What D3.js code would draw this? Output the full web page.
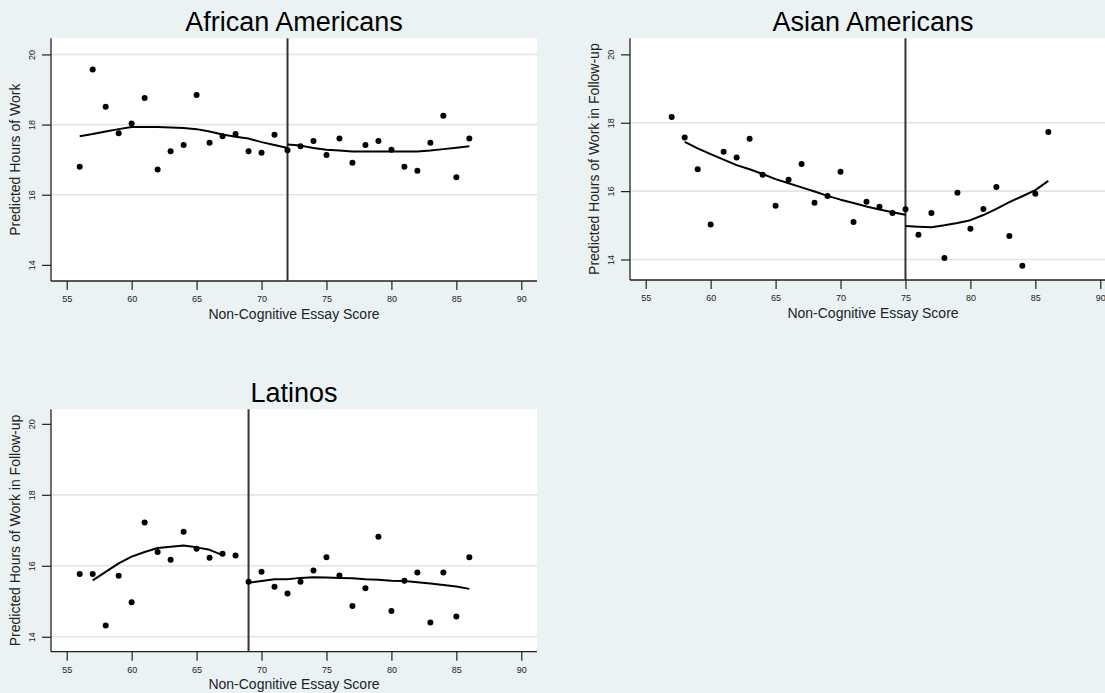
<!DOCTYPE html>
<html><head><meta charset="utf-8">
<script src="https://cdn.jsdelivr.net/npm/d3@7/dist/d3.min.js"></script>
<style>
html,body{margin:0;padding:0;background:#eaf2f3;}
svg{display:block;font-family:"Liberation Sans",Arial,Helvetica,sans-serif;}
</style></head>
<body>
<svg id="chart" width="1105" height="693"></svg>
<script>
// ---------- data ----------
const xTicks = [55, 60, 65, 70, 75, 80, 85, 90];
const yTicks = [14, 16, 18, 20];
const xAxisTitle = "Non-Cognitive Essay Score";

// African Americans
const afAmScores = [56,57,58,59,60,61,62,63,64,65,66,67,68,69,70,71,72,73,74,75,76,77,78,79,80,81,82,83,84,85,86];
const afAmHours  = [16.80,19.57,18.51,17.75,18.03,18.76,16.72,17.24,17.42,18.84,17.48,17.67,17.73,17.24,17.20,17.71,17.27,17.38,17.53,17.13,17.60,16.91,17.42,17.53,17.28,16.80,16.68,17.48,18.25,16.50,17.60];
const afAmFitLeftX  = [56,57,58,59,60,61,62,63,64,65,66,67,68,69,70,71,72];
const afAmFitLeftY  = [17.67,17.73,17.80,17.87,17.93,17.93,17.93,17.92,17.90,17.87,17.80,17.72,17.65,17.60,17.50,17.42,17.33];
const afAmFitRightX = [72,73,74,75,76,77,78,79,80,81,82,83,84,85,86];
const afAmFitRightY = [17.43,17.40,17.33,17.28,17.26,17.23,17.23,17.23,17.23,17.23,17.23,17.26,17.30,17.34,17.38];
const afAmCutoff = 72;

// Asian Americans
const asAmScores = [57,58,59,60,61,62,63,64,65,66,67,68,69,70,71,72,73,74,75,76,77,78,79,80,81,82,83,84,85,86];
const asAmHours  = [18.17,17.57,16.64,15.02,17.15,16.98,17.53,16.48,15.57,16.33,16.79,15.66,15.86,16.57,15.10,15.69,15.54,15.36,15.47,14.72,15.36,14.04,15.95,14.90,15.48,16.12,14.69,13.82,15.92,17.73];
const asAmFitLeftX  = [58,59,60,61,62,63,64,65,66,67,68,69,70,71,72,73,74,75];
const asAmFitLeftY  = [17.44,17.25,17.08,16.92,16.76,16.64,16.50,16.35,16.23,16.11,15.99,15.86,15.75,15.65,15.55,15.46,15.38,15.31];
const asAmFitRightX = [75,76,77,78,79,80,81,82,83,84,85,86];
const asAmFitRightY = [14.98,14.96,14.94,15.00,15.07,15.15,15.30,15.48,15.68,15.85,16.03,16.30];
const asAmCutoff = 75;

// Latinos
const latScores = [56,57,58,59,60,61,62,63,64,65,66,67,68,69,70,71,72,73,74,75,76,77,78,79,80,81,82,83,84,85,86];
const latHours  = [15.77,15.77,14.32,15.72,14.97,17.22,16.39,16.17,16.96,16.48,16.23,16.34,16.29,15.55,15.83,15.41,15.22,15.55,15.87,16.24,15.73,14.87,15.37,16.82,14.73,15.58,15.81,14.40,15.81,14.57,16.24];
const latFitLeftX  = [57,58,59,60,61,62,63,64,65,66,67];
const latFitLeftY  = [15.59,15.83,16.07,16.26,16.39,16.50,16.54,16.57,16.52,16.45,16.30];
const latFitRightX = [69,70,71,72,73,74,75,76,77,78,79,80,81,82,83,84,85,86];
const latFitRightY = [15.52,15.57,15.62,15.62,15.66,15.68,15.67,15.66,15.65,15.62,15.61,15.58,15.57,15.54,15.50,15.46,15.42,15.35];
const latCutoff = 69;

const panelTitles = ["African Americans", "Asian Americans", "Latinos"];
const yAxisTitles = ["Predicted Hours of Work", "Predicted Hours of Work in Follow-up", "Predicted Hours of Work in Follow-up"];

// ---------- layout ----------
const xDomain = [53.79, 91.21];
const panels = [
  {title: panelTitles[0], yTitle: yAxisTitles[0], scores: afAmScores, hours: afAmHours,
   fits: [[afAmFitLeftX, afAmFitLeftY], [afAmFitRightX, afAmFitRightY]], cutoff: afAmCutoff,
   left: 51, right: 537, top: 38.3, bottom: 281, yDomain: [13.54, 20.46], grid: [16, 18, 20]},
  {title: panelTitles[1], yTitle: yAxisTitles[1], scores: asAmScores, hours: asAmHours,
   fits: [[asAmFitLeftX, asAmFitLeftY], [asAmFitRightX, asAmFitRightY]], cutoff: asAmCutoff,
   left: 630, right: 1116, top: 38.3, bottom: 280, yDomain: [13.40, 20.47], grid: [14, 16, 18]},
  {title: panelTitles[2], yTitle: yAxisTitles[2], scores: latScores, hours: latHours,
   fits: [[latFitLeftX, latFitLeftY], [latFitRightX, latFitRightY]], cutoff: latCutoff,
   left: 51, right: 537, top: 409.3, bottom: 651.7, yDomain: [13.58, 20.41], grid: [14, 16, 18]}
];

const svg = d3.select("#chart");
svg.append("rect").attr("width", 1105).attr("height", 693).attr("fill", "#eaf2f3");

panels.forEach(p => {
  const g = svg.append("g");
  const x = d3.scaleLinear().domain(xDomain).range([p.left, p.right]);
  const y = d3.scaleLinear().domain(p.yDomain).range([p.bottom, p.top]);

  // plot region
  g.append("rect").attr("x", p.left).attr("y", p.top)
    .attr("width", p.right - p.left).attr("height", p.bottom - p.top).attr("fill", "#ffffff");

  // grid lines
  g.selectAll(".grid").data(p.grid).join("line")
    .attr("x1", p.left).attr("x2", p.right)
    .attr("y1", d => y(d)).attr("y2", d => y(d))
    .attr("stroke", "#e4e4e4").attr("stroke-width", 1.6);

  // x axis
  const xAxis = d3.axisBottom(x).tickValues(xTicks).tickFormat(d3.format("d"))
    .tickSize(9).tickPadding(6).tickSizeOuter(0);
  const gx = g.append("g").attr("transform", `translate(0,${p.bottom})`).call(xAxis);
  gx.select(".domain").attr("stroke", "#222").attr("stroke-width", 1.3)
    .attr("d", `M${p.left},0H${p.right}`);
  gx.selectAll(".tick line").attr("stroke", "#222").attr("stroke-width", 1.2);
  gx.selectAll(".tick text").attr("font-size", 9).attr("fill", "#222")
    .attr("font-family", '"Liberation Sans",Arial,sans-serif');

  // y axis
  const yAxis = d3.axisLeft(y).tickValues(yTicks).tickFormat(d3.format("d"))
    .tickSize(9).tickPadding(0).tickSizeOuter(0);
  const gy = g.append("g").attr("transform", `translate(${p.left},0)`).call(yAxis);
  gy.select(".domain").attr("stroke", "#222").attr("stroke-width", 1.3)
    .attr("d", `M0,${p.top}V${p.bottom}`);
  gy.selectAll(".tick line").attr("stroke", "#222").attr("stroke-width", 1.2);
  gy.selectAll(".tick text").attr("font-size", 9).attr("fill", "#222")
    .attr("font-family", '"Liberation Sans",Arial,sans-serif')
    .attr("x", null).attr("dy", null)
    .attr("text-anchor", "middle")
    .attr("transform", "translate(-16.2,0) rotate(-90)");

  // cutoff line
  g.append("line").attr("x1", x(p.cutoff)).attr("x2", x(p.cutoff))
    .attr("y1", p.top).attr("y2", p.bottom)
    .attr("stroke", "#333").attr("stroke-width", 2);

  // fitted lines
  const line = d3.line().x(d => x(d[0])).y(d => y(d[1]));
  p.fits.forEach(([fx, fy]) => {
    g.append("path").datum(fx.map((v, i) => [v, fy[i]]))
      .attr("d", line).attr("fill", "none")
      .attr("stroke", "#000").attr("stroke-width", 2).attr("stroke-linejoin", "round");
  });

  // scatter
  g.selectAll(".pt").data(p.scores.map((s, i) => [s, p.hours[i]])).join("circle")
    .attr("cx", d => x(d[0])).attr("cy", d => y(d[1])).attr("r", 3).attr("fill", "#000");

  // titles
  g.append("text").attr("x", (p.left + p.right) / 2).attr("y", p.top - 7.7)
    .attr("text-anchor", "middle").attr("font-size", 27).attr("fill", "#000").text(p.title);
  g.append("text").attr("x", (p.left + p.right) / 2).attr("y", p.bottom + 37.5)
    .attr("text-anchor", "middle").attr("font-size", 14).attr("fill", "#222").text(xAxisTitle);
  g.append("text")
    .attr("transform", `translate(${p.left - 31},${(p.top + p.bottom) / 2}) rotate(-90)`)
    .attr("text-anchor", "middle").attr("font-size", 14).attr("fill", "#222").text(p.yTitle);
});
</script>
</body></html>
